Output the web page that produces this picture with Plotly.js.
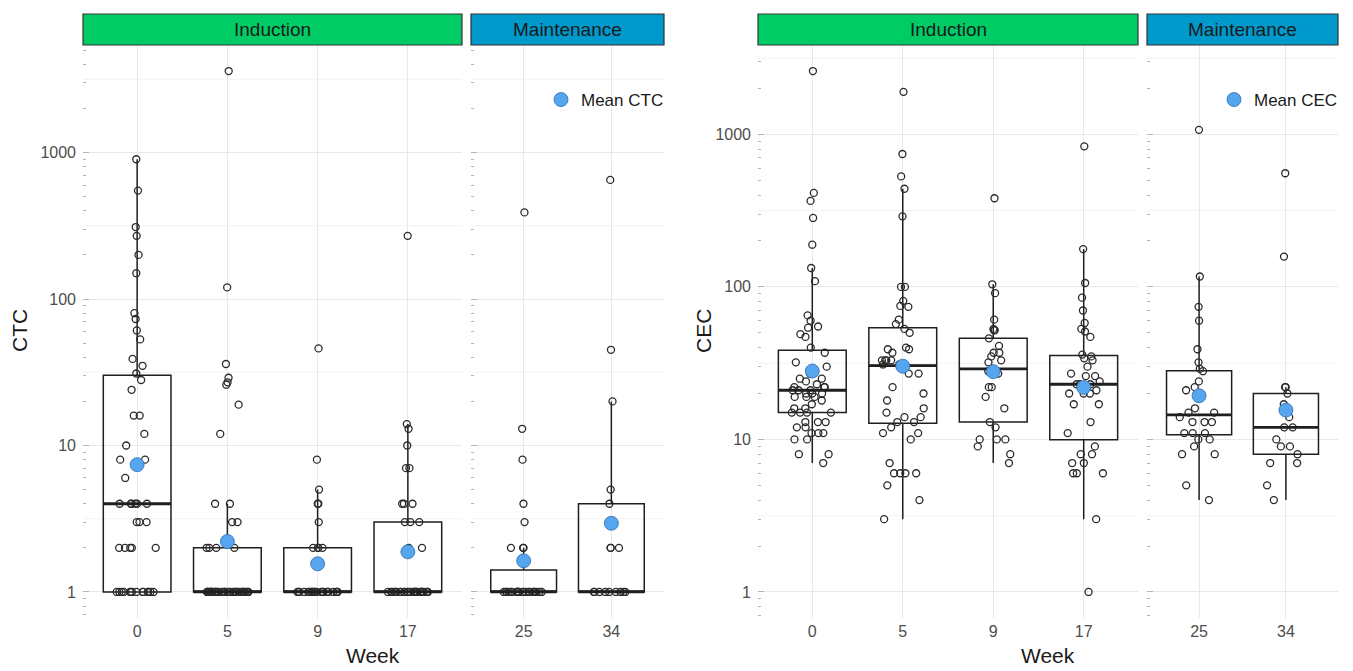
<!DOCTYPE html>
<html><head><meta charset="utf-8">
<script src="https://cdn.plot.ly/plotly-3.0.1.min.js"></script>
<style>html,body{margin:0;padding:0;background:#fff}#chart{width:1353px;height:671px}</style>
</head><body><div id="chart"></div>
<script>
// ---------- categories ----------
const inductionWeeks = ['0', '5', '9', '17'];
const maintenanceWeeks = ['25', '34'];
const phaseLabels = ['Induction', 'Maintenance'];
const yTickVals = [1, 10, 100, 1000];
const yTickText = ['1', '10', '100', '1000'];

// ---------- CTC values per week ----------
const ctcWeek0 = [900, 550, 310, 270, 200, 150, 80, 73, 61, 53, 39, 35, 31, 28, 24, 16, 16, 12, 10, 8, 8, 6,
  4, 4, 4, 4, 4, 4, 3, 3, 3, 2, 2, 2, 2, 2, 1, 1, 1, 1, 1, 1, 1, 1, 1, 1, 1, 1, 1, 1];
const ctcWeek5 = [3600, 120, 36, 29, 27, 26, 19, 12, 4, 4, 3, 3, 2, 2, 2, 2,
  1, 1, 1, 1, 1, 1, 1, 1, 1, 1, 1, 1, 1, 1, 1, 1, 1, 1, 1, 1, 1, 1, 1, 1, 1, 1, 1, 1, 1, 1, 1, 1, 1, 1];
const ctcWeek9 = [46, 8, 5, 4, 4, 3, 2, 2, 2, 2,
  1, 1, 1, 1, 1, 1, 1, 1, 1, 1, 1, 1, 1, 1, 1, 1, 1, 1, 1, 1, 1, 1];
const ctcWeek17 = [270, 14, 13, 10, 7, 7, 4, 4, 4, 3, 3, 3, 2, 2,
  1, 1, 1, 1, 1, 1, 1, 1, 1, 1, 1, 1, 1, 1, 1, 1, 1, 1, 1, 1, 1, 1, 1, 1, 1, 1, 1];
const ctcWeek25 = [390, 13, 8, 4, 3, 2, 2, 2,
  1, 1, 1, 1, 1, 1, 1, 1, 1, 1,
  1, 1, 1, 1, 1, 1, 1, 1, 1, 1,
  1, 1, 1];
const ctcWeek34 = [650, 45, 20, 5, 4, 2, 2, 2, 1, 1, 1, 1, 1, 1, 1, 1, 1];

// ---------- CEC values per week ----------
const cecWeek0 = [2600, 413, 366, 283, 189, 133, 109, 65, 60, 55, 54, 49, 47, 40, 37, 32, 30, 27, 25, 25, 24, 23,
  22, 22, 22, 21, 21, 21, 20, 20, 20, 19, 19, 19, 18, 17, 16, 16, 15, 15, 15, 15, 13, 13, 13, 12, 12,
  11, 11, 11, 10, 10, 8, 8, 7];
const cecWeek5 = [1900, 743, 530, 440, 290, 100, 100, 81, 75, 74, 61, 57, 53, 50, 40, 39, 39, 37, 33, 33, 33, 33,
  31, 31, 30, 27, 27, 22, 20, 18, 16, 15, 14, 14, 13, 13, 12, 11, 11, 10, 7, 6, 6, 6, 6, 5, 4, 3];
const cecWeek9 = [381, 104, 91, 61, 53, 52, 52, 46, 41, 37, 37, 35, 33, 32, 29, 28, 27, 22, 22, 19, 16, 13, 12,
  10, 10, 10, 9, 8, 7];
const cecWeek17 = [834, 177, 106, 85, 70, 58, 53, 51, 47, 36, 35, 34, 33, 30, 27, 26, 26, 24, 23, 23, 23, 21,
  20, 20, 20, 17, 17, 13, 11, 9, 8, 8, 7, 7, 6, 6, 6, 3, 1];
const cecWeek25 = [1070, 117, 74, 60, 39, 32, 29, 28, 24, 22, 21, 16, 15, 15, 14, 13, 13, 13, 11, 11, 11, 10, 10,
  9, 8, 8, 5, 4];
const cecWeek34 = [556, 158, 22, 22, 20, 17, 14, 12, 12, 10, 9, 9, 8, 7, 7, 5, 4];

// ---------- helpers ----------
const W = 1353, H = 671;
const px = x => x / W;
const py = y => 1 - y / H;
const FONT = 'Liberation Sans, Arial, Helvetica, sans-serif';

function q7(s, p) {
  const h = (s.length - 1) * p, lo = Math.floor(h), hi = Math.ceil(h);
  return s[lo] + (h - lo) * (s[hi] - s[lo]);
}
// box statistics computed on the log10 scale (as ggplot does with a log10 y scale)
function stats(vals) {
  const l = vals.map(v => Math.log10(v)).sort((a, b) => a - b);
  const q1 = q7(l, 0.25), med = q7(l, 0.5), q3 = q7(l, 0.75), iqr = q3 - q1;
  const lo = Math.min(...l.filter(v => v >= q1 - 1.5 * iqr));
  const hi = Math.max(...l.filter(v => v <= q3 + 1.5 * iqr));
  const mean = l.reduce((a, b) => a + b, 0) / l.length;
  return {q1: 10 ** q1, med: 10 ** med, q3: 10 ** q3, lo: 10 ** lo, hi: 10 ** hi, mean: 10 ** mean};
}
function logRange(allSeries) {
  const l = allSeries.flat().map(v => Math.log10(v));
  const mn = Math.min(...l), mx = Math.max(...l), e = 0.05 * (mx - mn);
  return [mn - e, mx + e];
}

function facetTraces(weeks, series, xa, ya, meanName, legendId) {
  const st = series.map(stats);
  const common = {type: 'box', xaxis: xa, yaxis: ya, width: 0.75, whiskerwidth: 0, showlegend: false, hoverinfo: 'skip'};
  const box = Object.assign({}, common, {
    x: weeks, q1: st.map(s => s.q1), median: st.map(s => s.med), q3: st.map(s => s.q3),
    lowerfence: st.map(s => s.lo), upperfence: st.map(s => s.hi),
    line: {color: '#1f1f1f', width: 1.5}, fillcolor: 'rgba(255,255,255,0)', boxpoints: false
  });
  const medBox = Object.assign({}, common, {
    x: weeks, q1: st.map(s => s.med), median: st.map(s => s.med), q3: st.map(s => s.med),
    lowerfence: st.map(s => s.med), upperfence: st.map(s => s.med),
    line: {color: '#1f1f1f', width: 2.8}, fillcolor: 'rgba(0,0,0,0)', boxpoints: false
  });
  const xs = [], ys = [];
  series.forEach((s, i) => s.forEach(v => { xs.push(weeks[i]); ys.push(v); }));
  const pts = Object.assign({}, common, {
    x: xs, y: ys, boxpoints: 'all', jitter: 0.62, pointpos: 0,
    line: {color: 'rgba(0,0,0,0)', width: 0}, fillcolor: 'rgba(0,0,0,0)',
    marker: {symbol: 'circle-open', size: 7, color: '#2a2a2a', line: {width: 1.3}}
  });
  const mean = {
    type: 'scatter', mode: 'markers', xaxis: xa, yaxis: ya, x: weeks, y: st.map(s => s.mean),
    name: meanName || '', legend: legendId, showlegend: !!meanName, hoverinfo: 'skip',
    marker: {size: 14, color: '#55a6ee', line: {color: '#2f6cb0', width: 0.8}}
  };
  return [box, pts, medBox, mean];
}

const ctcInd = [ctcWeek0, ctcWeek5, ctcWeek9, ctcWeek17];
const ctcMaint = [ctcWeek25, ctcWeek34];
const cecInd = [cecWeek0, cecWeek5, cecWeek9, cecWeek17];
const cecMaint = [cecWeek25, cecWeek34];

const traces = [].concat(
  facetTraces(inductionWeeks, ctcInd, 'x', 'y', null, 'legend'),
  facetTraces(maintenanceWeeks, ctcMaint, 'x2', 'y2', 'Mean CTC', 'legend'),
  facetTraces(inductionWeeks, cecInd, 'x3', 'y3', null, 'legend2'),
  facetTraces(maintenanceWeeks, cecMaint, 'x4', 'y4', 'Mean CEC', 'legend2')
);

const ctcRange = logRange(ctcInd.concat(ctcMaint));
const cecRange = logRange(cecInd.concat(cecMaint));

// log tick marks (2..9 x 10^k) and half-decade minor grid positions
const logMinor = [];
for (let k = -1; k <= 3; k++) for (let m = 2; m <= 9; m++) logMinor.push(m * 10 ** k);
const halfDecades = [];
for (let k = -1; k <= 3; k++) halfDecades.push(10 ** (k + 0.5));

const yDomain = [py(618), py(45)];
function yax(range, anchor, labels) {
  return {
    type: 'log', range: range, domain: yDomain, anchor: anchor,
    showgrid: true, gridcolor: '#e8e8e8', gridwidth: 1, zeroline: false, showline: false,
    tickmode: 'array', tickvals: yTickVals, ticktext: yTickText, showticklabels: labels,
    ticks: 'inside', ticklen: 6, tickcolor: '#b5b5b5', tickwidth: 1,
    tickfont: {size: 16, color: '#4d4d4d', family: FONT}, ticklabelstandoff: 6,
    minor: {tickmode: 'array', tickvals: logMinor, ticks: 'inside', ticklen: 3, tickcolor: '#b5b5b5', tickwidth: 1, showgrid: false},
    fixedrange: true
  };
}
function xax(cats, dom, anchor) {
  return {
    type: 'category', categoryorder: 'array', categoryarray: cats, range: [-0.6, cats.length - 0.4],
    domain: dom, anchor: anchor, showgrid: true, gridcolor: '#e8e8e8', gridwidth: 1,
    zeroline: false, showline: false, ticks: '', ticklabelstandoff: 2,
    tickfont: {size: 16, color: '#4d4d4d', family: FONT}, fixedrange: true
  };
}

const facets = [
  {x: 'x', y: 'y', l: 83, r: 462, label: phaseLabels[0], color: '#00cc66'},
  {x: 'x2', y: 'y2', l: 471, r: 664, label: phaseLabels[1], color: '#0099cc'},
  {x: 'x3', y: 'y3', l: 758, r: 1138, label: phaseLabels[0], color: '#00cc66'},
  {x: 'x4', y: 'y4', l: 1147, r: 1338, label: phaseLabels[1], color: '#0099cc'}
];

const shapes = [], annotations = [];
facets.forEach(f => {
  halfDecades.forEach(v => shapes.push({
    type: 'line', xref: f.x + ' domain', yref: f.y, x0: 0, x1: 1, y0: v, y1: v,
    line: {color: '#efefef', width: 0.8}, layer: 'below'
  }));
  shapes.push({
    type: 'rect', xref: 'paper', yref: 'paper', x0: px(f.l), x1: px(f.r), y0: py(45), y1: py(14),
    fillcolor: f.color, line: {color: '#333333', width: 1.2}
  });
  annotations.push({
    xref: 'paper', yref: 'paper', x: px((f.l + f.r) / 2), y: py(29.5), text: f.label, showarrow: false,
    xanchor: 'center', yanchor: 'middle', font: {size: 19, color: '#1a1a1a', family: FONT}
  });
});
annotations.push(
  {xref: 'paper', yref: 'paper', x: px(19), y: py(331), text: 'CTC', textangle: -90, showarrow: false,
   xanchor: 'center', yanchor: 'middle', font: {size: 21, color: '#1a1a1a', family: FONT}},
  {xref: 'paper', yref: 'paper', x: px(703), y: py(331), text: 'CEC', textangle: -90, showarrow: false,
   xanchor: 'center', yanchor: 'middle', font: {size: 21, color: '#1a1a1a', family: FONT}},
  {xref: 'paper', yref: 'paper', x: px(373), y: py(655), text: 'Week', showarrow: false,
   xanchor: 'center', yanchor: 'middle', font: {size: 21, color: '#1a1a1a', family: FONT}},
  {xref: 'paper', yref: 'paper', x: px(1048), y: py(655), text: 'Week', showarrow: false,
   xanchor: 'center', yanchor: 'middle', font: {size: 21, color: '#1a1a1a', family: FONT}}
);

const legendBase = {
  bgcolor: 'rgba(255,255,255,0)', borderwidth: 0, font: {size: 17, color: '#1a1a1a', family: FONT},
  xanchor: 'right', yanchor: 'middle', itemclick: false, itemdoubleclick: false
};

const layout = {
  width: W, height: H, margin: {l: 0, r: 0, t: 0, b: 0},
  paper_bgcolor: '#ffffff', plot_bgcolor: '#ffffff', font: {family: FONT},
  boxmode: 'overlay', hovermode: false,
  xaxis: xax(inductionWeeks, [px(83), px(462)], 'y'),
  xaxis2: xax(maintenanceWeeks, [px(471), px(664)], 'y2'),
  xaxis3: xax(inductionWeeks, [px(758), px(1138)], 'y3'),
  xaxis4: xax(maintenanceWeeks, [px(1147), px(1338)], 'y4'),
  yaxis: yax(ctcRange, 'x', true),
  yaxis2: yax(ctcRange, 'x2', false),
  yaxis3: yax(cecRange, 'x3', true),
  yaxis4: yax(cecRange, 'x4', false),
  legend: Object.assign({}, legendBase, {x: px(669), y: py(100)}),
  legend2: Object.assign({}, legendBase, {x: px(1343), y: py(100)}),
  shapes: shapes, annotations: annotations
};

Plotly.newPlot('chart', traces, layout, {displayModeBar: false, staticPlot: true});
</script>
</body></html>
